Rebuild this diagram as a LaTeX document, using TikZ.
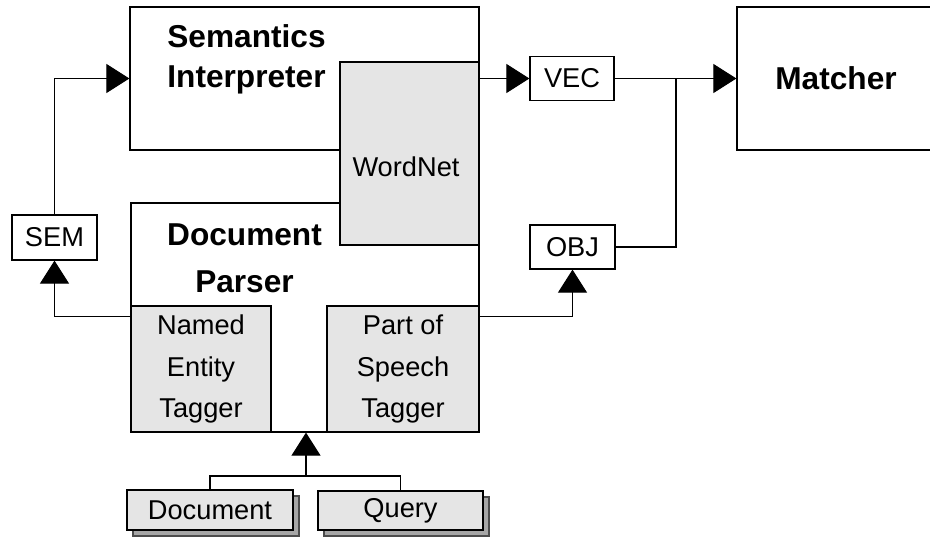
\documentclass[tikz,border=0pt]{standalone}
\usepackage{fontspec}
\setmainfont{Liberation Sans}
\usetikzlibrary{arrows.meta,shadows}

\tikzset{
  box/.style={draw, line width=0.7pt, fill=white, inner sep=0pt, align=center,
    font=\fontsize{15.5}{23.8}\selectfont},
  greybox/.style={box, fill=black!10},
  title/.style={inner sep=0pt, align=center, font=\fontsize{18}{22.8}\selectfont\bfseries},
  stack/.style={greybox, copy shadow={shadow xshift=0.12cm, shadow yshift=-0.12cm,
    fill=black!35, draw=black!70}},
  flow/.style={line width=0.6pt, -{Triangle[length=0.46cm,width=0.58cm]}},
  link/.style={line width=0.6pt}
}

\begin{document}
\begin{tikzpicture}
  \useasboundingbox (0,0) rectangle (18.6,10.82);
  % modules
  \node[box, minimum width=6.98cm, minimum height=2.86cm] (si) at (6.09,9.25) {};
  \node[title] (sititle) at (4.93,9.63) {Semantics\\Interpreter};
  \node[box, minimum width=6.96cm, minimum height=4.58cm] (dp) at (6.10,4.47) {};
  \node[title, font=\fontsize{18}{26.7}\selectfont\bfseries] (dptitle) at (4.89,5.65) {Document\\Parser};
  \node[greybox, minimum width=2.78cm, minimum height=3.66cm] (wn) at (8.19,7.75) {};
  \node[inner sep=0pt, font=\fontsize{15.5}{23.8}\selectfont] (wntext) at (8.12,7.48) {WordNet};
  \node[greybox, minimum width=2.80cm, minimum height=2.52cm] (net) at (4.02,3.44) {Named\\Entity\\Tagger};
  \node[greybox, minimum width=3.04cm, minimum height=2.52cm] (pos) at (8.06,3.44) {Part of\\Speech\\Tagger};
  \node[box, minimum width=3.96cm, minimum height=2.86cm,
    font=\fontsize{18}{22}\selectfont\bfseries] (match) at (16.72,9.25) {Matcher};
  % data
  \node[box, minimum width=1.70cm, minimum height=0.90cm] (sem) at (1.09,6.07) {SEM};
  \node[box, minimum width=1.68cm, minimum height=0.88cm] (vec) at (11.44,9.25) {VEC};
  \node[box, minimum width=1.70cm, minimum height=0.88cm] (obj) at (11.45,5.88) {OBJ};
  \node[stack, minimum width=3.32cm, minimum height=0.80cm] (doc) at (4.20,0.62) {Document};
  \node[stack, minimum width=3.30cm, minimum height=0.78cm] (qry) at (8.01,0.61) {Query};
  % junctions
  \coordinate (jv) at (13.52,9.25);
  \coordinate (jd) at (6.12,1.30);
  % connectors
  \draw[flow] (sem.north) |- (si.west);
  \draw[flow] ([yshift=-0.22cm]net.north west) -| (sem.south);
  \draw[flow] (si.east) -- (vec.west);
  \draw[flow] (vec.east) -- (match.west);
  \draw[link] (obj.east) -| (jv);
  \draw[flow] ([yshift=-0.22cm]pos.north east) -| (obj.south);
  \draw[link] (doc.north) |- (jd) -| (qry.north);
  \draw[flow] (jd) -- (jd |- dp.south);
\end{tikzpicture}
\end{document}
